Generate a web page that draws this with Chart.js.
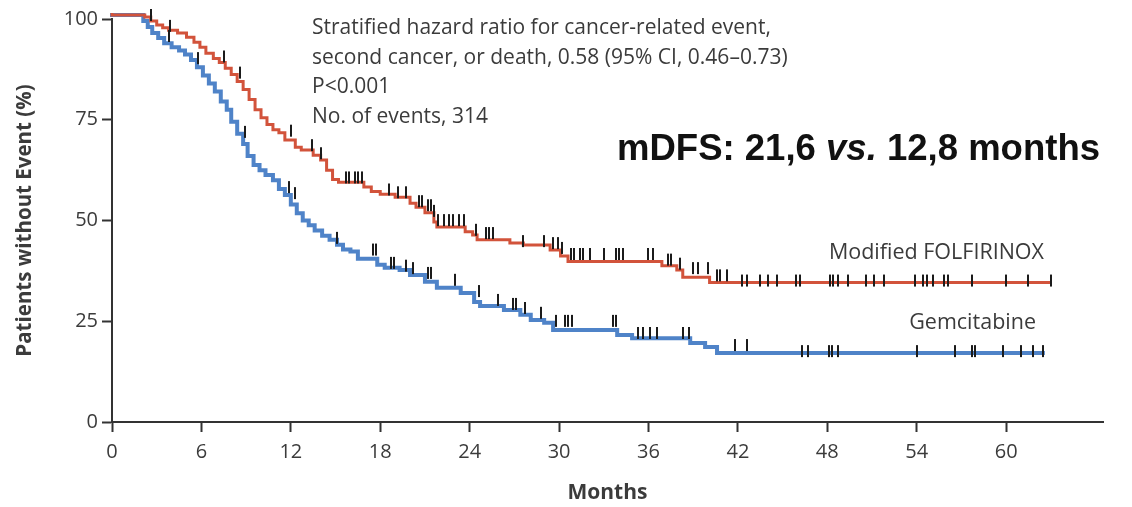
<!DOCTYPE html>
<html>
<head>
<meta charset="utf-8">
<script src="https://cdn.jsdelivr.net/npm/chart.js@4"></script>
<style>
  html, body { margin: 0; padding: 0; background: #fff; }
  #wrap { width: 1132px; height: 507px; }
</style>
</head>
<body>
<div id="wrap"><canvas id="km" width="1132" height="507"></canvas></div>
<script>
// Kaplan-Meier (months, % without event)
const folfTimes = [0, 2.2, 2.6, 3.0, 3.4, 3.8, 4.4, 5.0, 5.5, 5.9, 6.3, 6.8, 7.2, 7.6, 8.0, 8.4, 8.8, 9.2, 9.6, 10.0,
  10.4, 10.8, 11.2, 11.6, 12.3, 12.7, 13.5, 14.0, 14.4, 14.8, 15.2, 16.9, 17.4, 18.0, 19.0, 20.0, 20.4, 21.0, 21.6,
  21.8, 23.7, 24.2, 24.5, 26.7, 27.6, 29.4, 30.1, 30.6, 36.9, 37.9, 38.3, 40.1, 41.5, 63.0];
const folfSurv = [101.5, 101, 100.5, 99.5, 98.5, 97.8, 97.2, 96.5, 95.5, 94.2, 93, 91.5, 90.2, 89.2, 87.8, 86.2, 84.5,
  82.5, 80, 77.5, 75.5, 73.8, 72.5, 71.8, 70, 68.2, 67.5, 66.2, 65, 62.5, 60.2, 59.5, 58.3, 57.2, 56.5, 55.8, 54.3,
  53.3, 51.9, 49.6, 48.4, 47.2, 46.4, 45.2, 44.4, 43.9, 42.7, 41.2, 39.8, 38.8, 37.7, 35.9, 34.6, 34.6];

const gemTimes = [0, 2.1, 2.4, 2.7, 3.1, 3.5, 4.0, 4.5, 4.9, 5.3, 5.7, 6.1, 6.5, 6.9, 7.3, 7.7, 8.0, 8.4, 8.8, 9.1,
  9.5, 9.9, 10.3, 10.8, 11.2, 11.6, 12.0, 12.4, 12.8, 13.2, 13.6, 14.1, 14.6, 15.1, 15.5, 16.0, 16.5, 17.8, 18.3,
  19.3, 20.0, 21.0, 21.8, 23.4, 24.3, 24.7, 26.3, 27.4, 28.1, 29.0, 29.6, 33.9, 34.9, 38.8, 39.8, 40.6, 43.0, 62.6];
const gemSurv = [101.5, 101, 99.5, 98, 96.5, 95.3, 94, 93, 92.2, 91.2, 89.8, 88, 86, 84, 82, 79.5, 77.5, 74.5, 71.5,
  69, 66, 63.8, 62.5, 61.3, 60, 57.8, 56.3, 54, 51.8, 50, 48.8, 47.5, 46.2, 45.2, 44, 42.8, 42.3, 40.5, 39, 38.3,
  37.7, 36.5, 34.8, 33.3, 32, 29.8, 28.8, 27.8, 26.6, 25.3, 24.6, 22.8, 21.6, 20.8, 19.6, 18.6, 17.1, 17.1];

// censoring marks (months)
const folfCensor = [0.2, 0.3, 0.8, 1.8, 1.9, 2.0, 2.6, 3.9, 7.5, 8.6, 12.0, 13.4, 14.0, 15.7, 15.9, 16.3, 16.5, 16.8,
  18.6, 19.2, 19.7, 20.6, 20.8, 21.2, 21.4, 21.6, 21.9, 22.3, 22.6, 22.9, 23.3, 23.6, 24.4, 25.1, 25.3, 25.6, 27.6,
  29.0, 29.6, 29.9, 30.2, 30.8, 31.0, 31.4, 31.6, 32.1, 33.0, 33.8, 34.0, 34.3, 36.0, 36.3, 37.3, 37.5, 38.1, 39.0,
  39.3, 40.0, 40.6, 40.8, 41.3, 42.3, 42.6, 43.5, 44.0, 44.6, 45.9, 46.2, 48.2, 48.4, 48.7, 49.4, 50.6, 51.1, 51.8,
  53.9, 54.4, 54.7, 55.1, 55.8, 56.1, 57.7, 60.0, 61.5, 63.0];
const gemCensor = [0.25, 1.85, 3.8, 5.8, 8.9, 11.9, 12.3, 15.1, 17.5, 17.7, 18.7, 18.9, 19.7, 20.2, 21.2, 21.4, 23.0,
  24.6, 25.9, 26.9, 27.1, 27.7, 28.8, 29.8, 30.4, 30.6, 30.9, 33.6, 33.8, 35.3, 35.6, 36.1, 36.6, 38.3, 38.7, 41.8,
  42.6, 46.3, 46.7, 48.1, 48.3, 48.7, 54.0, 56.6, 57.7, 57.9, 59.8, 61.0, 61.8, 62.5];

const xTicks = [0, 6, 12, 18, 24, 30, 36, 42, 48, 54, 60];
const yTicks = [0, 25, 50, 75, 100];
const seriesNames = ['Modified FOLFIRINOX', 'Gemcitabine'];
const noteLines = [
  'Stratified hazard ratio for cancer-related event,',
  'second cancer, or death, 0.58 (95% CI, 0.46\u20130.73)',
  'P<0.001',
  'No. of events, 314'
];

const RED = '#d2533b';
const BLUE = '#4f83c8';
const INK = '#3b3b3b';
const FONT = '"Open Sans", "Noto Sans", sans-serif';

function survAt(times, surv, t) {
  let v = surv[0];
  for (let i = 0; i < times.length; i++) {
    if (times[i] <= t) v = surv[i];
  }
  return v;
}

// small vertical censor tick, crossing the curve and rising above it
function tickMark() {
  const c = document.createElement('canvas');
  c.width = 2;
  c.height = 20;
  const g = c.getContext('2d');
  g.fillStyle = '#1b1b1b';
  g.fillRect(0, 2, 2, 12);
  return c;
}
const censorStyle = tickMark();

const textPlugin = {
  id: 'kmText',
  afterDraw(chart) {
    const ctx = chart.ctx;
    ctx.save();
    ctx.fillStyle = INK;
    ctx.textBaseline = 'middle';
    ctx.font = '21px ' + FONT;
    ctx.textAlign = 'left';
    noteLines.forEach((line, i) => ctx.fillText(line, 312, 28 + i * 29.7));

    ctx.textAlign = 'right';
    ctx.font = '21.5px ' + FONT;
    ctx.fillText(seriesNames[0], 1044, 253);
    ctx.fillText(seriesNames[1], 1036, 323);

    // headline, condensed bold
    const parts = [
      ['mDFS: 21,6 ', 'bold 36px "Liberation Sans", Arial, sans-serif'],
      ['vs.', 'italic bold 36px "Liberation Sans", Arial, sans-serif'],
      [' 12,8 months', 'bold 36px "Liberation Sans", Arial, sans-serif']
    ];
    let total = 0;
    parts.forEach((p) => { ctx.font = p[1]; total += ctx.measureText(p[0]).width; });
    const sx = 483 / total;
    ctx.translate(617, 150);
    ctx.scale(sx, 1);
    ctx.fillStyle = '#111';
    ctx.textAlign = 'left';
    let x = 0;
    parts.forEach((p) => {
      ctx.font = p[1];
      ctx.fillText(p[0], x, 0);
      x += ctx.measureText(p[0]).width;
    });
    ctx.restore();
  }
};

new Chart(document.getElementById('km').getContext('2d'), {
  type: 'line',
  data: {
    datasets: [
      {
        label: seriesNames[0],
        data: folfTimes.map((t, i) => ({ x: t, y: folfSurv[i] })),
        borderColor: RED,
        borderWidth: 3,
        stepped: 'after',
        pointRadius: 0,
        clip: false,
        order: 2
      },
      {
        label: seriesNames[1],
        data: gemTimes.map((t, i) => ({ x: t, y: gemSurv[i] })),
        borderColor: BLUE,
        borderWidth: 4,
        stepped: 'after',
        pointRadius: 0,
        clip: false,
        order: 2
      },
      {
        label: 'censor-folf',
        data: folfCensor.map((t) => ({ x: t, y: survAt(folfTimes, folfSurv, t) })),
        showLine: false,
        pointStyle: censorStyle,
        clip: false,
        order: 1
      },
      {
        label: 'censor-gem',
        data: gemCensor.map((t) => ({ x: t, y: survAt(gemTimes, gemSurv, t) })),
        showLine: false,
        pointStyle: censorStyle,
        clip: false,
        order: 1
      }
    ]
  },
  options: {
    responsive: false,
    animation: false,
    layout: { padding: { top: 19, right: 29, left: 0, bottom: 0 } },
    plugins: { legend: { display: false }, tooltip: { enabled: false } },
    scales: {
      x: {
        type: 'linear',
        min: 0,
        max: 66.5,
        afterBuildTicks: (s) => { s.ticks = xTicks.map((v) => ({ value: v })); },
        afterFit: (s) => { s.height = 85; },
        border: { display: true, color: '#333', width: 2 },
        grid: { display: true, drawOnChartArea: false, drawTicks: true, tickLength: 10, tickWidth: 2, color: '#333' },
        ticks: { color: INK, font: { family: FONT, size: 20 }, padding: 8, maxRotation: 0 },
        title: { display: true, text: 'Months', color: INK, font: { family: FONT, size: 21, weight: 'bold' }, padding: { top: 0, bottom: 1 } }
      },
      y: {
        min: 0,
        max: 100,
        afterBuildTicks: (s) => { s.ticks = yTicks.map((v) => ({ value: v })); },
        afterFit: (s) => { s.width = 112; },
        border: { display: true, color: '#333', width: 2 },
        grid: { display: true, drawOnChartArea: false, drawTicks: true, tickLength: 10, tickWidth: 2, color: '#333' },
        ticks: { color: INK, font: { family: FONT, size: 20 }, padding: 4 },
        title: { display: true, text: 'Patients without Event (%)', color: INK, font: { family: FONT, size: 20.5, weight: 'bold' }, padding: { top: 13, bottom: 0 } }
      }
    }
  },
  plugins: [textPlugin]
});
</script>
</body>
</html>
